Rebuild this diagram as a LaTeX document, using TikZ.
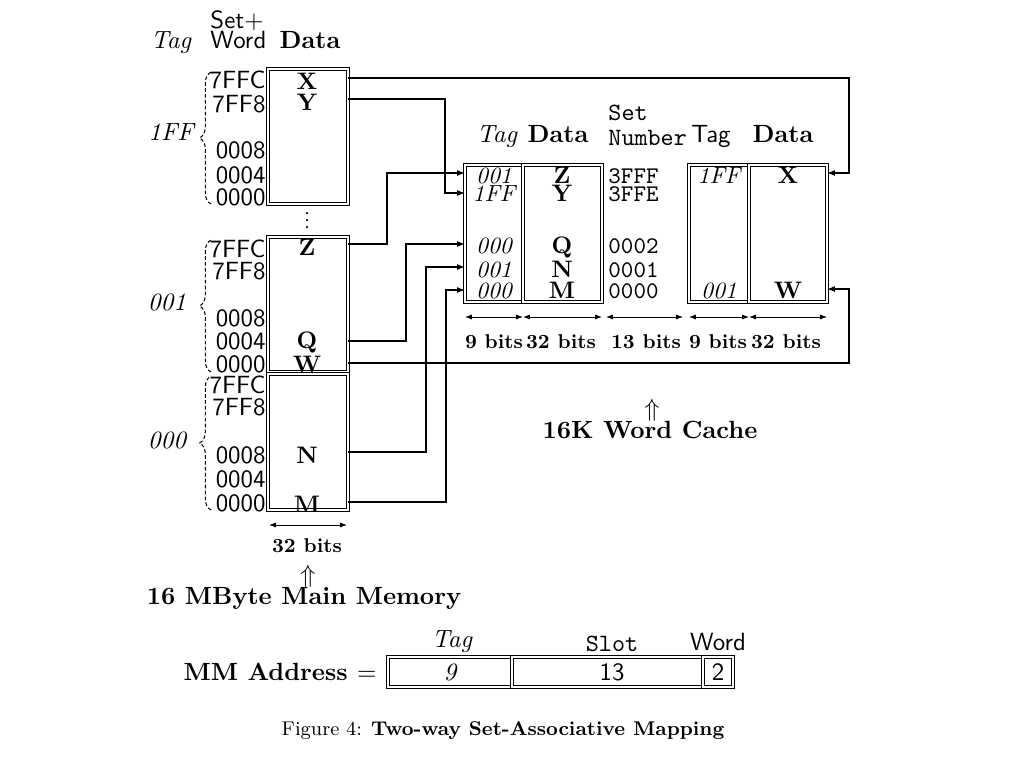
\documentclass[tikz,border=0pt]{standalone}
\usetikzlibrary{arrows.meta,decorations.pathreplacing}
\begin{document}
\begin{tikzpicture}[x=0.44pt,y=-0.44pt,
  txt/.style={inner sep=0pt, font=\fontsize{10.95}{13}\selectfont},
  bft/.style={inner sep=0pt, font=\fontsize{10.95}{13}\selectfont\bfseries},
  bfr/.style={inner sep=0pt, font=\fontsize{10.5}{12}\selectfont\bfseries},
  bits/.style={inner sep=0pt, font=\fontsize{8.8}{10}\selectfont\bfseries},
  sft/.style={inner sep=0pt, font=\fontsize{10.95}{13}\selectfont\sffamily},
  ttt/.style={inner sep=0pt, font=\fontsize{10.95}{13}\selectfont\ttfamily},
  ttr/.style={inner sep=0pt, font=\fontsize{10.5}{12}\selectfont\ttfamily},
  itt/.style={inner sep=0pt, font=\fontsize{10.95}{13}\selectfont\itshape},
  itr/.style={inner sep=0pt, font=\fontsize{10.3}{12}\selectfont\itshape},
  capt/.style={inner sep=0pt, font=\fontsize{8.75}{10}\selectfont},
  boxline/.style={draw=black, double=white, double distance=0.5pt, line width=0.45pt},
  conn/.style={line width=0.5pt, -{Latex[length=3.5pt,width=2.6pt]}},
  dimarr/.style={line width=0.4pt, {Latex[length=3pt,width=2.2pt]}-{Latex[length=3pt,width=2.2pt]}},
  brc/.style={decorate, decoration={brace, amplitude=5pt}, dash pattern=on 1.6pt off 1pt, line width=0.45pt}
]
\useasboundingbox (0,0) rectangle (1024,768);

% ---------- main memory headers ----------
\node[itt, anchor=base] (hTag) at (171,48) {Tag};
\node[sft, anchor=base west] (hSet) at (210,28) {Set+};
\node[sft, anchor=base west] (hWord) at (210,48) {Word};
\node[bft, anchor=base] (hData) at (310,48) {Data};

% ---------- main memory blocks ----------
\draw[boxline] (268,69) rectangle (348,204);
\draw[boxline] (268,237) rectangle (348,372);
\draw[boxline] (268,374) rectangle (348,510);
\foreach \yy in {213,220,227} \fill (307,\yy) circle[radius=0.55pt];

% braces and tags
\draw[brc] (211,204) -- (211,72);
\draw[brc] (211,372) -- (211,240);
\draw[brc] (211,510) -- (211,376);
\node[itt, anchor=base] (t1) at (171,140) {1FF};
\node[itt, anchor=base] (t2) at (167,310) {001};
\node[itt, anchor=base] (t3) at (167,448) {000};

% addresses block 1
\node[sft, anchor=base east] (a11) at (266,88) {7FFC};
\node[sft, anchor=base east] (a12) at (266,112) {7FF8};
\node[sft, anchor=base east] (a13) at (266,158) {0008};
\node[sft, anchor=base east] (a14) at (266,183) {0004};
\node[sft, anchor=base east] (a15) at (266,205) {0000};
% addresses block 2
\node[sft, anchor=base east] (a21) at (266,257) {7FFC};
\node[sft, anchor=base east] (a22) at (266,279) {7FF8};
\node[sft, anchor=base east] (a23) at (266,326) {0008};
\node[sft, anchor=base east] (a24) at (266,349) {0004};
\node[sft, anchor=base east] (a25) at (266,372) {0000};
% addresses block 3
\node[sft, anchor=base east] (a31) at (266,393) {7FFC};
\node[sft, anchor=base east] (a32) at (266,415) {7FF8};
\node[sft, anchor=base east] (a33) at (266,463) {0008};
\node[sft, anchor=base east] (a34) at (266,487) {0004};
\node[sft, anchor=base east] (a35) at (266,511) {0000};

% data words in memory
\node[bfr, anchor=base] (dX) at (307,89) {X};
\node[bfr, anchor=base] (dY) at (307,110) {Y};
\node[bfr, anchor=base] (dZ) at (307,255) {Z};
\node[bfr, anchor=base] (dQ) at (307,348) {Q};
\node[bfr, anchor=base] (dW) at (307,372) {W};
\node[bfr, anchor=base] (dN) at (307,463) {N};
\node[bfr, anchor=base] (dM) at (307,512) {M};

% memory width
\coordinate (mwl) at (269,525);
\coordinate (mwr) at (347,525);
\draw[dimarr] (mwl) -- (mwr);
\node[bits, anchor=base] (m32) at (307,552) {32 bits};
\node[txt] (mup) at (308,576) {$\Uparrow$};
\node[bft, anchor=base] (mtitle) at (304,604) {16 MByte Main Memory};

% ---------- cache ----------
\node[itt, anchor=base] (cTag1) at (497,142) {Tag};
\node[bft, anchor=base] (cData1) at (558,142) {Data};
\node[ttt, anchor=base west] (cSet) at (608,120) {Set};
\node[ttt, anchor=base west] (cNum) at (608,145) {Number};
\node[sft, anchor=base] (cTag2) at (711,142) {Tag};
\node[bft, anchor=base] (cData2) at (783,142) {Data};

\draw[boxline] (465,165) rectangle (523,302);
\draw[boxline] (523,165) rectangle (602,302);
\draw[boxline] (689,165) rectangle (749,302);
\draw[boxline] (749,165) rectangle (827,302);

% left way
\node[itr, anchor=base] (l1t) at (494,183) {001};
\node[itr, anchor=base] (l2t) at (494,201) {1FF};
\node[itr, anchor=base] (l3t) at (494,253) {000};
\node[itr, anchor=base] (l4t) at (494,277) {001};
\node[itr, anchor=base] (l5t) at (494,298) {000};
\node[bfr, anchor=base] (l1d) at (562,183) {Z};
\node[bfr, anchor=base] (l2d) at (562,201) {Y};
\node[bfr, anchor=base] (l3d) at (562,253) {Q};
\node[bfr, anchor=base] (l4d) at (562,277) {N};
\node[bfr, anchor=base] (l5d) at (562,298) {M};
% set numbers
\node[ttr, anchor=base west] (s1) at (608,183) {3FFF};
\node[ttr, anchor=base west] (s2) at (608,201) {3FFE};
\node[ttr, anchor=base west] (s3) at (608,253) {0002};
\node[ttr, anchor=base west] (s4) at (608,277) {0001};
\node[ttr, anchor=base west] (s5) at (608,298) {0000};
% right way
\node[itr, anchor=base] (r1t) at (719,183) {1FF};
\node[bfr, anchor=base] (r1d) at (788,183) {X};
\node[itr, anchor=base] (r5t) at (719,298) {001};
\node[bfr, anchor=base] (r5d) at (788,298) {W};

% widths
\draw[dimarr] (465,317) -- (523,317);
\draw[dimarr] (523,317) -- (602,317);
\draw[dimarr] (606,317) -- (683,317);
\draw[dimarr] (689,317) -- (749,317);
\draw[dimarr] (749,317) -- (827,317);
\node[bits, anchor=base] (w1) at (494,348) {9 bits};
\node[bits, anchor=base] (w2) at (561,348) {32 bits};
\node[bits, anchor=base] (w3) at (646,348) {13 bits};
\node[bits, anchor=base] (w4) at (718,348) {9 bits};
\node[bits, anchor=base] (w5) at (786,348) {32 bits};
\node[txt] (cup) at (652,410) {$\Uparrow$};
\node[bft, anchor=base] (ctitle) at (650,438) {16K Word Cache};

% ---------- connectors ----------
\coordinate (mX) at (348,78);
\coordinate (mY) at (348,99);
\coordinate (mZ) at (348,244);
\coordinate (mQ) at (348,341);
\coordinate (mW) at (348,363);
\coordinate (mN) at (348,452);
\coordinate (mM) at (348,502);
\coordinate (cX) at (827,173);
\coordinate (cW) at (827,289);
\coordinate (cZ) at (465,173);
\coordinate (cY) at (465,193);
\coordinate (cQ) at (465,244);
\coordinate (cN) at (465,267);
\coordinate (cM) at (465,290);

\draw[conn] (mX) -- (849,78) |- (cX);
\draw[conn] (mW) -- (849,363) |- (cW);
\draw[conn] (mY) -- (445,99) |- (cY);
\draw[conn] (mZ) -- (387,244) |- (cZ);
\draw[conn] (mQ) -- (406,341) |- (cQ);
\draw[conn] (mN) -- (426,452) |- (cN);
\draw[conn] (mM) -- (446,502) |- (cM);

% ---------- address format ----------
\node[bft, anchor=base east] (mmaddr) at (377,680) {MM Address \normalfont$=$};
\draw[boxline] (388,657) rectangle (512,687);
\draw[boxline] (512,657) rectangle (703,687);
\draw[boxline] (703,657) rectangle (733,687);
\node[itt, anchor=base] (v9) at (450,680) {9};
\node[sft, anchor=base] (v13) at (612,680) {13};
\node[sft, anchor=base] (v2) at (718,680) {2};
\node[itt, anchor=base] (lTag) at (452,647) {Tag};
\node[ttt, anchor=base] (lSlot) at (612,651) {Slot};
\node[sft, anchor=base] (lWord) at (718,650) {Word};

% ---------- caption ----------
\node[capt, anchor=base] (caption) at (503,735) {Figure 4: \textbf{Two-way Set-Associative Mapping}};
\end{tikzpicture}
\end{document}
